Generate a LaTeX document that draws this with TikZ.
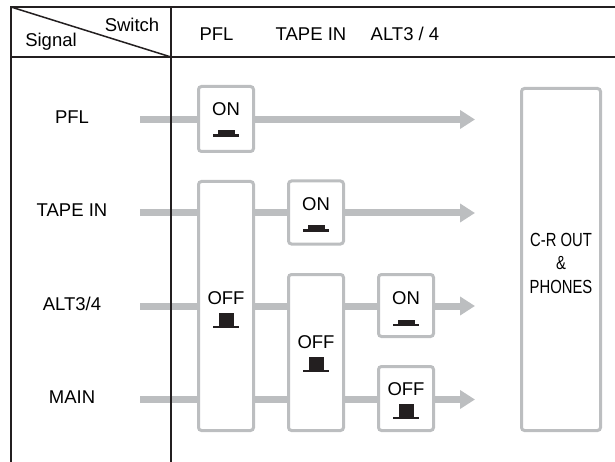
\documentclass[tikz,border=0pt]{standalone}
\usepackage{fontspec}
\setmainfont{Liberation Sans}
\newfontfamily\narrowfont[FakeStretch=0.78]{Liberation Sans}
\usetikzlibrary{arrows.meta}
\definecolor{signalgray}{HTML}{BCBEC0}
\definecolor{inkblack}{HTML}{231F20}

\begin{document}
\begin{tikzpicture}[x=1pt,y=-1pt,
                    font=\fontsize{18.5}{22}\selectfont,
                    frame line/.style={draw=inkblack,line width=1.5pt},
                    signal bar/.style={draw=signalgray,line width=7pt,-{Triangle[length=15pt,width=18pt]}},
                    switch box/.style={draw=signalgray,line width=3pt,fill=white,rounded corners=3pt,minimum width=55pt,inner sep=0pt},
                    pics/onbutton/.style={code={
                      \fill[inkblack] (-13,0) rectangle (13,-2.5);
                      \fill[inkblack] (-8.5,-2) rectangle (8.5,-6.5);
                      \node[anchor=base,inner sep=0pt] (-text) at (0,-21.5) {ON};}},
                    pics/offbutton/.style={code={
                      \fill[inkblack] (-13,0) rectangle (13,-2.5);
                      \fill[inkblack] (-7.5,-2) rectangle (7.5,-15);
                      \node[anchor=base,inner sep=0pt] (-text) at (0,-23.5) {OFF};}}]

          \useasboundingbox (0,0) rectangle (615,462);

          % Signal rows
          \foreach \name/\row/\text in {pfl/119.5/PFL, tape/213/TAPE IN, alt/306/{ALT3/4}, main/399.5/MAIN}{
            \node[anchor=base,inner sep=0pt] (\name-label) at (72,\row+4) {\text};
            \coordinate (\name-in) at (140,\row);
            \coordinate (\name-out) at (475,\row);
            \draw[signal bar] (\name-in) -- (\name-out);
          }

          % ON switches
          \foreach \name/\x/\y/\h/\by in {pfl-on/226/119/65/137, tape-on/316/212.5/63/232, alt-on/406/305.5/62/326}{
            \node[switch box,minimum height=\h pt] (\name) at (\x,\y) {};
            \pic (\name-sw) at (\x,\by) {onbutton};
          }

          % OFF switches
          \foreach \name/\x/\y/\h/\by in {pfl-off/226/306/249/328, tape-off/316/352.5/156/372, alt-off/406/398.5/64/419}{
            \node[switch box,minimum height=\h pt] (\name) at (\x,\y) {};
            \pic (\name-sw) at (\x,\by) {offbutton};
          }

          \node[switch box,minimum width=79pt,minimum height=342pt] (cr-out) at (561,259.5) {};
          \node[align=center,inner sep=0pt,font=\narrowfont\fontsize{19}{23.5}\selectfont] (cr-label) at (561,263) {C-R OUT\\\&\\PHONES};

          % Table frame
          \coordinate (top-left) at (11,7);
          \coordinate (head-corner) at (171,57);
          \draw[frame line] (11,462) -- (top-left) -- (615,7);
          \draw[frame line] (11,57) -- (615,57);
          \draw[frame line] (171,7) -- (171,462);
          \draw[frame line] (top-left) -- (head-corner);

          \node[anchor=base,inner sep=0pt] (switch-head) at (132,31.5) {Switch};
          \node[anchor=base,inner sep=0pt] (signal-head) at (51,47) {Signal};
          \foreach \name/\x/\text in {pfl/216.5/PFL, tape/311/TAPE IN, alt/405/{ALT3 / 4}}
            \node[anchor=base,inner sep=0pt] (\name-head) at (\x,41) {\text};
        \end{tikzpicture}
\end{document}
